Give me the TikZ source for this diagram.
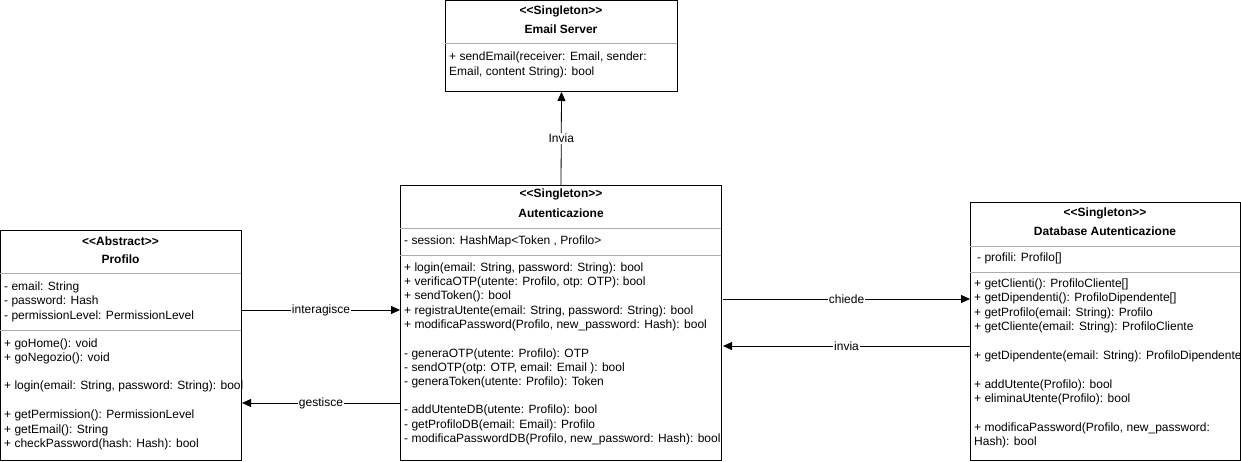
\documentclass[tikz,border=0pt]{standalone}
\usepackage{fontspec}
\setmainfont{Liberation Sans}
\usetikzlibrary{arrows.meta}
\newcommand{\stereo}[1]{{<}{<}#1{>}{>}}
\begin{document}
\begin{tikzpicture}[x=1pt,y=-1pt,
  cls/.style={draw=black, line width=1pt, fill=white, anchor=north west, inner sep=0pt},
  sepline/.style={draw=gray!65, line width=0.8pt},
  txt/.style={anchor=west, inner sep=0pt, font=\fontsize{12}{14}\selectfont},
  hd/.style={anchor=center, inner sep=0pt, font=\fontsize{12}{14}\selectfont\bfseries},
  arr/.style={-{Triangle[length=9pt,width=8pt]}, line width=0.8pt},
  lbl/.style={fill=white, inner sep=1pt, font=\fontsize{12}{14}\selectfont}]
\useasboundingbox (0,0) rectangle (1241,462);

% ---------- Email Server ----------
\node[cls, minimum width=232pt, minimum height=91pt] (email) at (445,0) {};
\node[hd] (emailst) at (561,11) {\stereo{Singleton}};
\node[hd] (emailti) at (561,29) {Email Server};
\draw[sepline] (445,43) -- (677,43);
\node[txt] (em1) at (449,57) {+ sendEmail(receiver: Email, sender:};
\node[txt] (em2) at (449,72) {Email, content String): bool};

% ---------- Autenticazione ----------
\node[cls, minimum width=321pt, minimum height=275pt] (auth) at (400,185) {};
\node[hd] (authst) at (561,194) {\stereo{Singleton}};
\node[hd] (authti) at (561,213) {Autenticazione};
\draw[sepline] (400,228) -- (721,228);
\node[txt] (a0) at (404,241) {- session: HashMap<Token , Profilo>};
\draw[sepline] (400,255) -- (721,255);
\node[txt] (a1) at (404,268) {+ login(email: String, password: String): bool};
\node[txt] (a2) at (404,282) {+ verificaOTP(utente: Profilo, otp: OTP): bool};
\node[txt] (a3) at (404,296) {+ sendToken(): bool};
\node[txt] (a4) at (404,311) {+ registraUtente(email: String, password: String): bool};
\node[txt] (a5) at (404,325) {+ modificaPassword(Profilo, new\_password: Hash): bool};
\node[txt] (a6) at (404,354) {- generaOTP(utente: Profilo): OTP};
\node[txt] (a7) at (404,368) {- sendOTP(otp: OTP, email: Email ): bool};
\node[txt] (a8) at (404,382) {- generaToken(utente: Profilo): Token};
\node[txt] (a9) at (404,410) {- addUtenteDB(utente: Profilo): bool};
\node[txt] (a10) at (404,425) {- getProfiloDB(email: Email): Profilo};
\node[txt] (a11) at (404,439) {- modificaPasswordDB(Profilo, new\_password: Hash): bool};

% ---------- Profilo ----------
\node[cls, minimum width=241pt, minimum height=230pt] (prof) at (0,230) {};
\node[hd] (profst) at (120.5,241) {\stereo{Abstract}};
\node[hd] (profti) at (120.5,259) {Profilo};
\draw[sepline] (0,273) -- (241,273);
\node[txt] (p1) at (4,287) {- email: String};
\node[txt] (p2) at (4,301) {- password: Hash};
\node[txt] (p3) at (4,316) {- permissionLevel: PermissionLevel};
\draw[sepline] (0,330) -- (241,330);
\node[txt] (p4) at (4,344) {+ goHome(): void};
\node[txt] (p5) at (4,358) {+ goNegozio(): void};
\node[txt] (p6) at (4,386) {+ login(email: String, password: String): bool};
\node[txt] (p7) at (4,415) {+ getPermission(): PermissionLevel};
\node[txt] (p8) at (4,430) {+ getEmail(): String};
\node[txt] (p9) at (4,444) {+ checkPassword(hash: Hash): bool};

% ---------- Database Autenticazione ----------
\node[cls, minimum width=270pt, minimum height=258pt] (db) at (970,202) {};
\node[hd] (dbst) at (1105,213) {\stereo{Singleton}};
\node[hd] (dbti) at (1105,231) {Database Autenticazione};
\draw[sepline] (970,246) -- (1240,246);
\node[txt] (d0) at (977,258) {- profili: Profilo[]};
\draw[sepline] (970,272) -- (1240,272);
\node[txt] (d1) at (974,284) {+ getClienti(): ProfiloCliente[]};
\node[txt] (d2) at (974,298) {+ getDipendenti(): ProfiloDipendente[]};
\node[txt] (d3) at (974,313) {+ getProfilo(email: String): Profilo};
\node[txt] (d4) at (974,327) {+ getCliente(email: String): ProfiloCliente};
\node[txt] (d5) at (974,356) {+ getDipendente(email: String): ProfiloDipendente};
\node[txt] (d6) at (974,385) {+ addUtente(Profilo): bool};
\node[txt] (d7) at (974,399) {+ eliminaUtente(Profilo): bool};
\node[txt] (d8) at (974,428) {+ modificaPassword(Profilo, new\_password:};
\node[txt] (d9) at (974,442) {Hash): bool};

% ---------- Connectors ----------
\draw[arr] (auth.north) -- node[lbl] {Invia} (email.south);
\draw[arr] (prof.east |- 0,310) -- node[lbl] {interagisce} (auth.west |- 0,310);
\draw[arr] (auth.west |- 0,403) -- node[lbl] {gestisce} (prof.east |- 0,403);
\draw[arr] ([xshift=1pt]auth.east |- 0,299) -- node[lbl] {chiede} (db.west |- 0,299);
\draw[arr] (db.west |- 0,346) -- node[lbl] {invia} ([xshift=1pt]auth.east |- 0,346);
\end{tikzpicture}
\end{document}
